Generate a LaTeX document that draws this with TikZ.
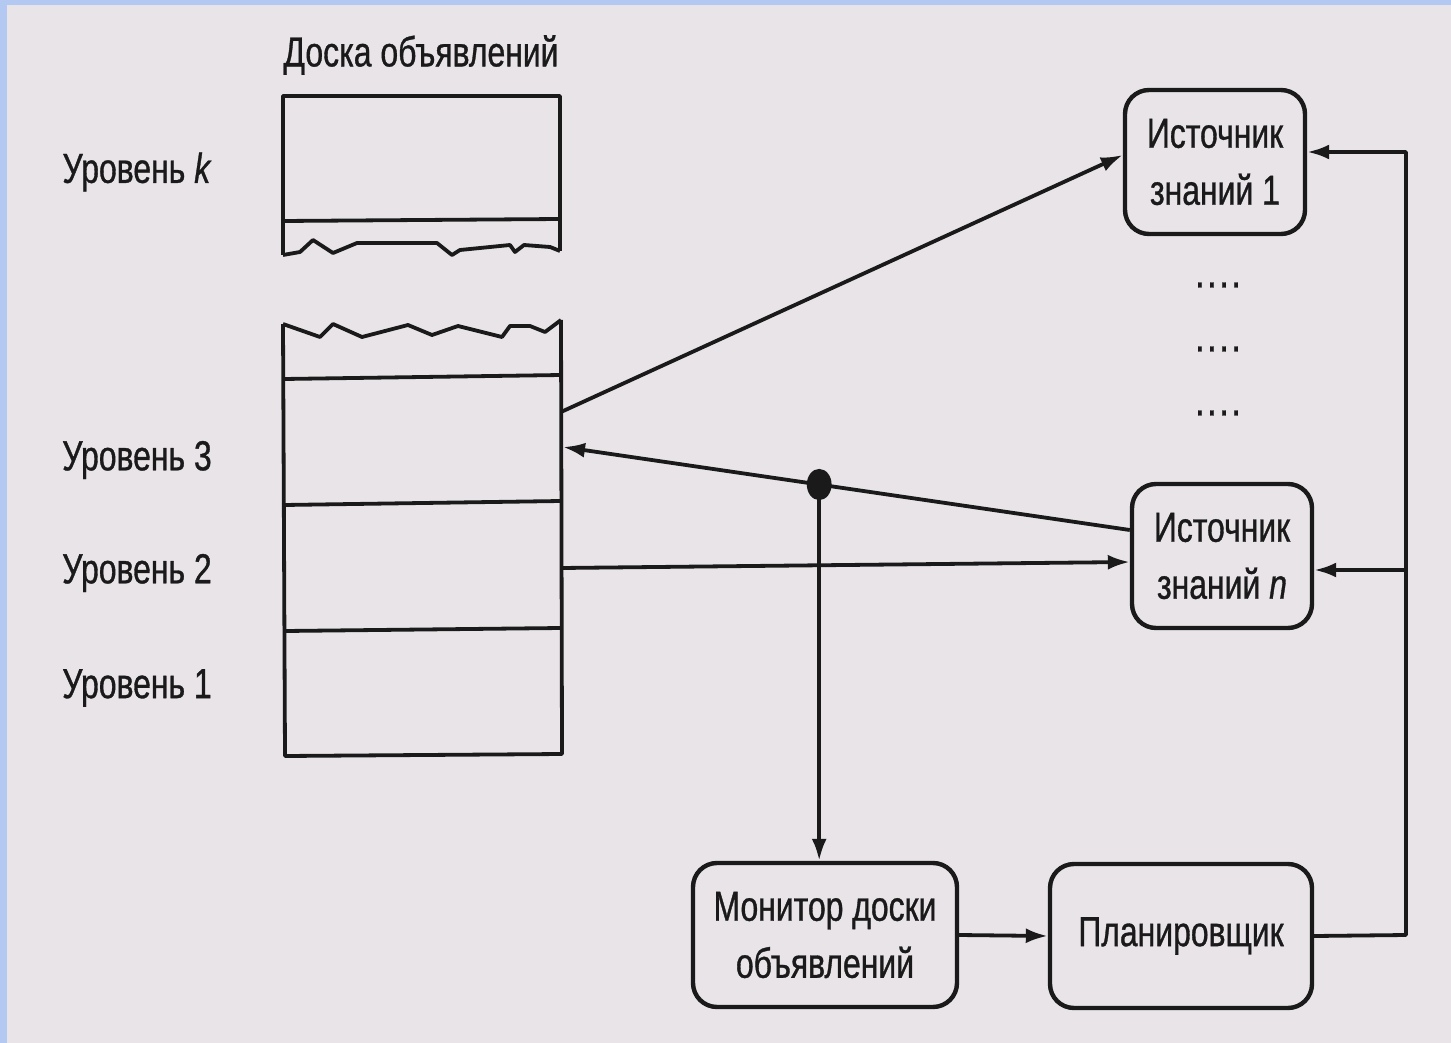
\documentclass[tikz,border=0pt]{standalone}
\usepackage{fontspec}
\setmainfont{Liberation Sans}[FakeStretch=0.76,FakeBold=0.8]
\usetikzlibrary{arrows.meta,calc}
\definecolor{bgc}{HTML}{E8E4E8}
\definecolor{edgec}{HTML}{B3C9F2}
\definecolor{ink}{HTML}{1A1A1A}
\begin{document}
\begin{tikzpicture}[x=0.5pt,y=-0.5pt,
  ln/.style={draw=ink,line width=1.9pt,line join=round},
  arr/.style={ln,-{Latex[length=11pt,width=7.5pt]}},
  ksbox/.style={draw=ink,line width=2.2pt,rounded corners=12pt,align=center,
    minimum width=90pt,minimum height=72pt,inner sep=2pt,text=ink,
    font=\fontsize{21}{28.5}\selectfont},
  lbl/.style={text=ink,font=\fontsize{21}{25}\selectfont,inner sep=0pt},
  dots/.style={text=ink,font=\fontsize{16}{16}\selectfont\bfseries,inner sep=0pt}]
\useasboundingbox (0,0) rectangle (1451,1043);
\fill[edgec] (0,0) rectangle (1451,1043);
\fill[bgc] (7,5) rectangle (1451,1043);

% labels
\node[lbl] (title) at (421,55) {Доска объявлений};
\node[lbl] (lk) at (137,172) {Уровень \textit{k}};
\node[lbl] (l3) at (137,460) {Уровень 3};
\node[lbl] (l2) at (137,573) {Уровень 2};
\node[lbl] (l1) at (137,688) {Уровень 1};

% blackboard upper part
\draw[ln] (283,255) -- (283,96) -- (560,96) -- (560,251);
\draw[ln] (283,221) -- (560,219);
\draw[ln] (283,255) -- (300,252) -- (313,240) -- (333,253) -- (357,243) -- (437,243)
  -- (452,255) -- (460,250) -- (510,245) -- (515,252) -- (524,245) -- (550,247) -- (560,251);
% blackboard lower part
\draw[ln] (283,324) -- (320,337) -- (333,324) -- (362,337) -- (408,325) -- (432,335)
  -- (458,326) -- (502,337) -- (510,326) -- (530,326) -- (545,332) -- (561,320);
\draw[ln] (283,324) -- (285,756) -- (562,754) -- (561,320);
\draw[ln] (284,379) -- (561,375);
\draw[ln] (284,505) -- (561,501);
\draw[ln] (285,631) -- (561,628);

\coordinate (bout1) at (561,412);
\coordinate (bin) at (563,447);
\coordinate (bout2) at (561,568);

% boxes
\node[ksbox] (ks1) at (1215,162) {Источник\\знаний 1};
\node[ksbox] (ksn) at (1222,556) {Источник\\знаний \textit{n}};
\node[ksbox,minimum width=132pt] (mon) at (825,935) {Монитор доски\\объявлений};
\node[ksbox,minimum width=131pt] (plan) at (1181,936) {Планировщик};

\node[dots] (d1) at (1218,285) {.\,.\,.\,.};
\node[dots] (d2) at (1218,349) {.\,.\,.\,.};
\node[dots] (d3) at (1218,413) {.\,.\,.\,.};

% anchor points on the boxes
\coordinate (ks1w) at ([yshift=3.5pt]ks1.west);
\coordinate (ks1e) at ([yshift=5pt]ks1.east);
\coordinate (ksnwa) at ([yshift=13pt]ksn.west);
\coordinate (ksnwb) at ([yshift=-3pt]ksn.west);
\coordinate (ksne) at ([yshift=-7pt]ksn.east);
\coordinate (rt) at (1406,935);

% connectors
\draw[arr] (bout1) -- (ks1w);
\draw[arr] (ksnwa) -- (bin) coordinate[pos=0.548] (j);
\fill[ink] (j) ellipse (6.2pt and 7.8pt);
\draw[arr] (bout2) -- (ksnwb);
\draw[arr] (j) -- (j |- mon.north);
\draw[arr] (mon.east) -- (plan.west);
\draw[arr] (plan.east) -- (rt) -- (rt |- ks1e) -- (ks1e);
\draw[arr] (rt |- ksne) -- (ksne);
\end{tikzpicture}
\end{document}
